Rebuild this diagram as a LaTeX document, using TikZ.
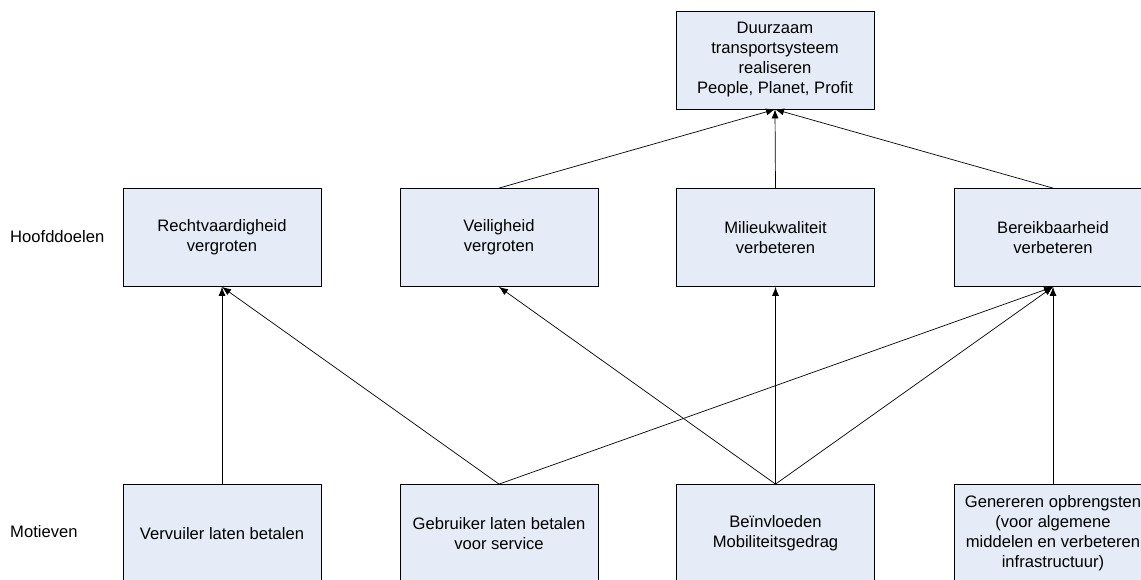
\documentclass[tikz,border=0pt]{standalone}
\usepackage{fontspec}
\setmainfont{Liberation Sans}
\usetikzlibrary{arrows.meta}
\definecolor{boxfill}{RGB}{230,236,247}
\begin{document}
\begin{tikzpicture}[x=1pt,y=-1pt,
  goal/.style={draw=black, line width=0.8pt, fill=boxfill,
    minimum width=198pt, minimum height=98pt, align=center,
    font=\fontsize{16.6}{20}\selectfont, inner sep=0pt},
  rowlabel/.style={anchor=west, font=\fontsize{16.6}{20}\selectfont, inner sep=0pt},
  link/.style={-{Latex[length=9pt,width=7pt]}, line width=0.7pt}]
\useasboundingbox (0,0) rectangle (1141,580);
\clip (0,0) rectangle (1141,580);

% overall goal
\node[goal] (top) at (775,60) {Duurzaam\\transportsysteem\\realiseren\\People, Planet, Profit};

% main goals
\node[goal] (recht)  at (222,237.5)  {Rechtvaardigheid\\vergroten};
\node[goal] (veilig) at (499,237.5)  {Veiligheid\\vergroten};
\node[goal] (milieu) at (775.5,237.5) {Milieukwaliteit\\verbeteren};
\node[goal] (bereik) at (1053,237.5) {Bereikbaarheid\\verbeteren};

% motives
\node[goal] (vervuiler) at (222,533.5)  {Vervuiler laten betalen};
\node[goal] (gebruiker) at (499,533.5)  {Gebruiker laten betalen\\voor service};
\node[goal] (gedrag)    at (775.5,533.5) {Beïnvloeden\\Mobiliteitsgedrag};
\node[goal] (opbrengst) at (1053,533.5) {Genereren opbrengsten\\(voor algemene\\middelen en verbeteren\\infrastructuur)};

% row labels
\node[rowlabel] (lblhoofd) at (10,237) {Hoofddoelen};
\node[rowlabel] (lblmotief) at (10,532) {Motieven};

% connections
\draw[link] (veilig.north) -- (top.south);
\draw[link] (milieu.north) -- (top.south);
\draw[link] (bereik.north) -- (top.south);

\draw[link] (vervuiler.north) -- (recht.south);
\draw[link] (gebruiker.north) -- (recht.south);
\draw[link] (gebruiker.north) -- (bereik.south);
\draw[link] (gedrag.north) -- (veilig.south);
\draw[link] (gedrag.north) -- (milieu.south);
\draw[link] (gedrag.north) -- (bereik.south);
\draw[link] (opbrengst.north) -- (bereik.south);
\end{tikzpicture}
\end{document}
